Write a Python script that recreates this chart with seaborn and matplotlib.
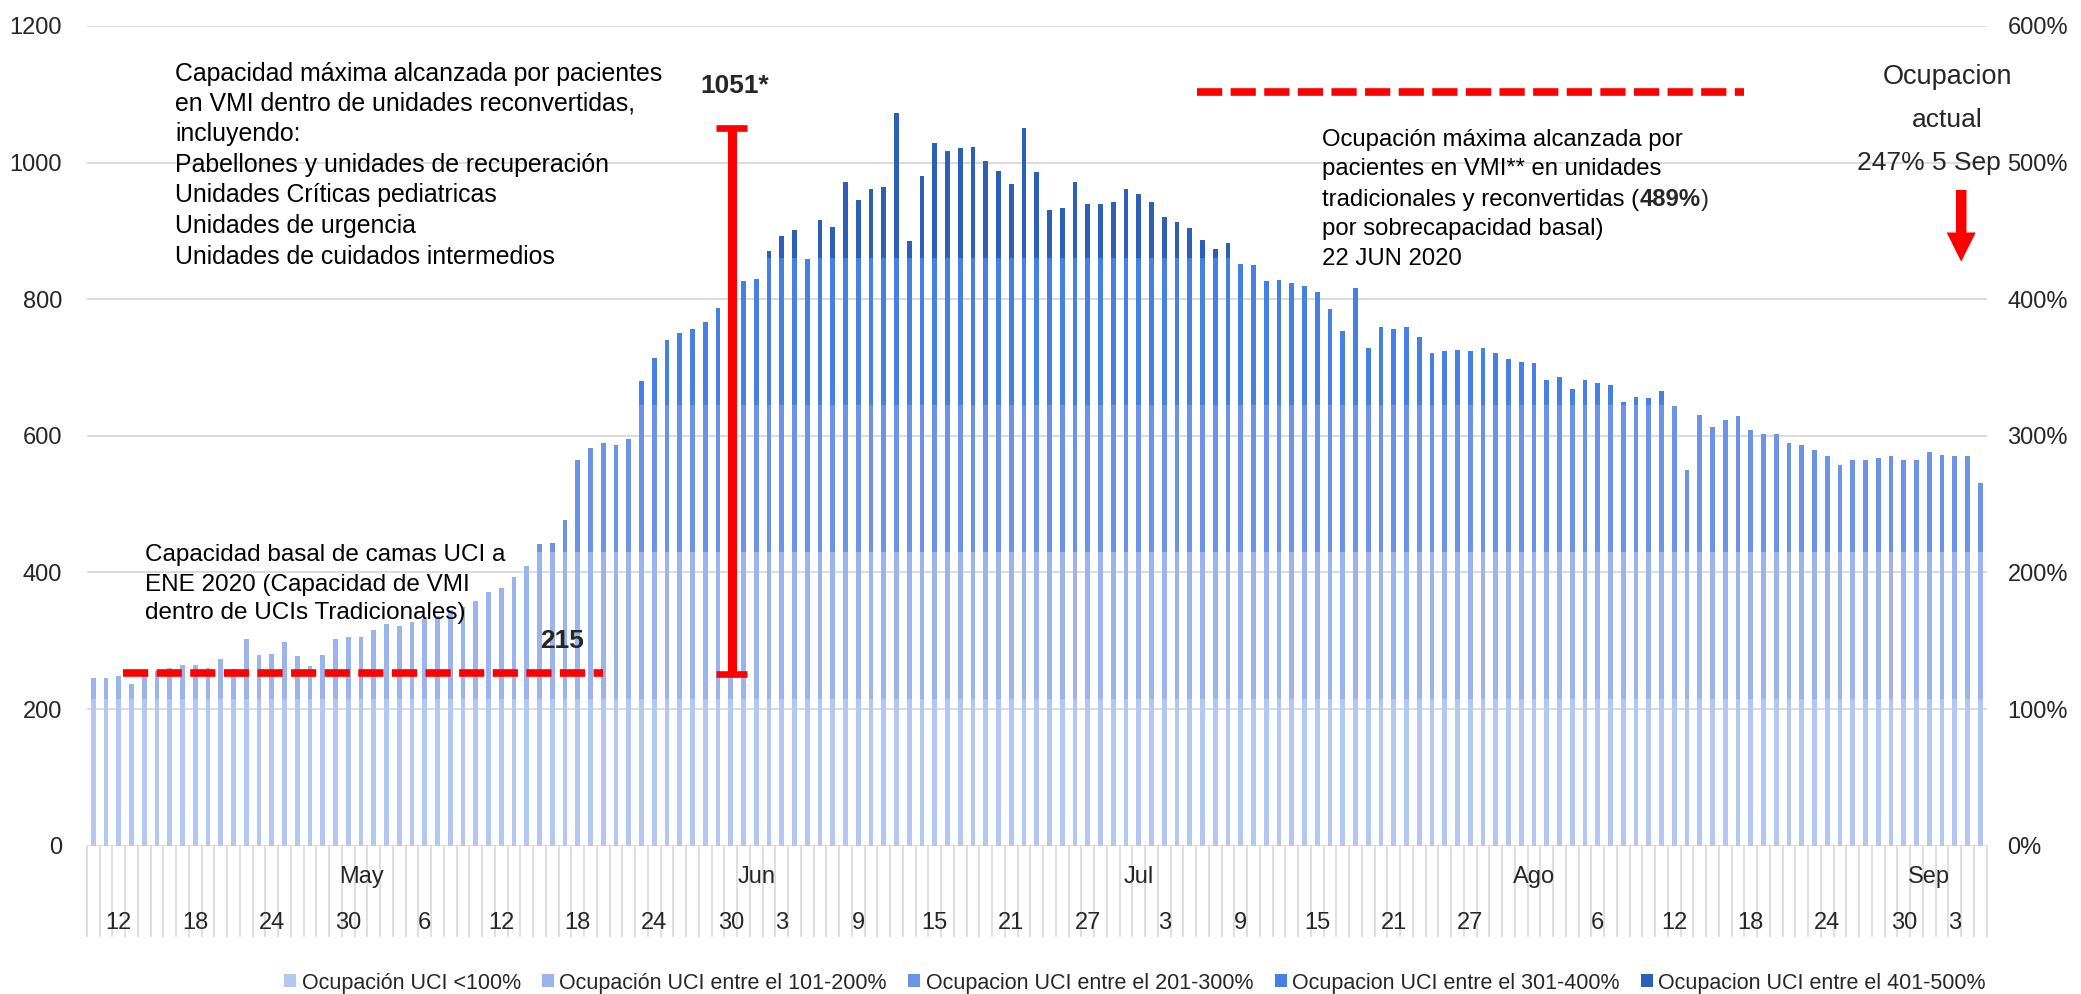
import os
import numpy as np
import pandas as pd
import matplotlib
matplotlib.use("Agg")
import matplotlib.pyplot as plt
from matplotlib import font_manager
from matplotlib.patches import Patch, FancyArrowPatch, ArrowStyle
from matplotlib.transforms import blended_transform_factory
import seaborn as sns

# Daily ICU patients on invasive mechanical ventilation (VMI), from 10 Apr 2020
start_date = "2020-04-10"
patients = [245, 245, 249, 237, 250, 256, 260, 265, 265, 260,
            273, 258, 303, 279, 281, 298, 278, 263, 279, 303,
            306, 306, 316, 324, 321, 328, 332, 336, 345, 350,
            358, 372, 377, 393, 410, 441, 443, 477, 565, 582,
            589, 586, 596, 681, 714, 741, 750, 757, 767, 787,
            805, 826, 830, 871, 893, 901, 859, 916, 906, 971,
            946, 961, 965, 1073, 885, 981, 1029, 1017, 1022, 1023,
            1003, 987, 968, 1051, 986, 930, 934, 972, 940, 940,
            942, 962, 954, 942, 920, 913, 904, 887, 873, 883,
            852, 850, 826, 828, 824, 820, 811, 785, 753, 817,
            728, 759, 757, 759, 745, 722, 724, 726, 724, 728,
            722, 712, 708, 706, 682, 686, 669, 682, 678, 675,
            649, 657, 655, 665, 643, 550, 631, 613, 623, 629,
            608, 602, 602, 589, 586, 580, 570, 558, 564, 564,
            568, 570, 564, 564, 576, 572, 570, 570, 531]

# occupancy bands: each 100% step equals the 215 baseline beds
band_edges = [215, 430, 645, 860, 1075]
band_labels = ["Ocupación UCI <100%",
               "Ocupación UCI entre el 101-200%",
               "Ocupacion UCI entre el 201-300%",
               "Ocupacion UCI entre el 301-400%",
               "Ocupacion UCI entre el 401-500%"]
band_colors = ["#B4C7F0", "#9CB4EE", "#6D93E8", "#4680E2", "#2D5EB8"]

tick_dates = ["2020-04-12", "2020-04-18", "2020-04-24", "2020-04-30",
              "2020-05-06", "2020-05-12", "2020-05-18", "2020-05-24", "2020-05-30",
              "2020-06-03", "2020-06-09", "2020-06-15", "2020-06-21", "2020-06-27",
              "2020-07-03", "2020-07-09", "2020-07-15", "2020-07-21", "2020-07-27",
              "2020-08-06", "2020-08-12", "2020-08-18", "2020-08-24", "2020-08-30",
              "2020-09-03"]
month_names = ["May", "Jun", "Jul", "Ago", "Sep"]
month_starts = ["2020-05-01", "2020-06-01", "2020-07-01", "2020-08-01", "2020-09-01"]
left_ticks = [0, 200, 400, 600, 800, 1000, 1200]
right_ticks = [0, 100, 200, 300, 400, 500, 600]

basal_capacity = 215
max_reconverted = 1051

sns.set_theme(style="white")

# register a narrow Arial-like face if the system has one
for path in font_manager.findSystemFonts():
    if "LiberationSansNarrow" in os.path.basename(path):
        try:
            font_manager.fontManager.addfont(path)
        except Exception:
            pass
installed = {f.name for f in font_manager.fontManager.ttflist}
BASE = "Liberation Sans" if "Liberation Sans" in installed else "DejaVu Sans"
HAS_NARROW = "Liberation Sans Narrow" in installed
NARROW = "Liberation Sans Narrow" if HAS_NARROW else BASE
AXIS_SIZE = 18.5 if HAS_NARROW else 17
LEGEND_SIZE = 18.0 if HAS_NARROW else 15.5
plt.rcParams["font.family"] = [BASE, "DejaVu Sans"]

dates = pd.date_range(start_date, periods=len(patients), freq="D")
pos = {d: i for i, d in enumerate(dates)}
df = pd.DataFrame({"dia": np.arange(len(dates)), "pacientes": patients})

W, H = 2081, 994
fig = plt.figure(figsize=(W / 100, H / 100), dpi=100)
px_left, px_right = 86.9, 1986.7
px_bottom, px_top = 845.7, 26.0
ax = fig.add_axes([px_left / W, (H - px_bottom) / H,
                   (px_right - px_left) / W, (px_bottom - px_top) / H])

# stacked bands drawn as overlapping bars, tallest band first
for edge, color in zip(band_edges[::-1], band_colors[::-1]):
    df["h"] = np.minimum(df["pacientes"], edge)
    sns.barplot(data=df, x="dia", y="h", color=color, saturation=1, width=0.38,
                linewidth=0, edgecolor="none", errorbar=None, native_scale=True, ax=ax)

ax.set_xlabel("")
ax.set_ylabel("")
ax.set_xlim(-0.5, len(dates) - 0.5)
ax.set_ylim(0, 1200)
ax.set_yticks(left_ticks)
ax.set_yticklabels([str(v) for v in left_ticks])
ax.tick_params(axis="y", length=0, pad=18, labelsize=17, labelcolor="#262626")
ax.set_xticks([])
ax.yaxis.grid(True, color="#D9D9D9", linewidth=1.3)
ax.xaxis.grid(False)
ax.set_axisbelow(True)
for s in ax.spines.values():
    s.set_visible(False)

ax2 = ax.twinx()
ax2.set_ylim(0, 600)
ax2.set_yticks(right_ticks)
ax2.set_yticklabels([f"{v}%" for v in right_ticks])
ax2.tick_params(axis="y", length=0, pad=15, labelsize=17, labelcolor="#262626")
ax2.grid(False)
for s in ax2.spines.values():
    s.set_visible(False)

# category axis: separators, day labels, month labels
bx = blended_transform_factory(ax.transData, ax.transAxes)


def yfrac(px):
    return -(px - px_bottom) / (px_bottom - px_top)


ax.vlines(np.arange(len(dates) + 1) - 0.5, yfrac(937), 0, transform=bx,
          colors="#D9D9D9", linewidth=1.2, clip_on=False)
for d in tick_dates:
    ts = pd.Timestamp(d)
    ax.text(pos[ts], yfrac(923), str(ts.day), transform=bx, ha="center", va="center",
            fontsize=AXIS_SIZE, family=[NARROW, "DejaVu Sans"], color="#262626")
for name, d in zip(month_names, month_starts):
    ax.text(pos[pd.Timestamp(d)], yfrac(877), name, transform=bx, ha="center", va="center",
            fontsize=AXIS_SIZE, family=[NARROW, "DejaVu Sans"], color="#262626")

handles = [Patch(facecolor=c, edgecolor="none", label=l) for c, l in zip(band_colors, band_labels)]
fig.legend(handles=handles, loc="center", bbox_to_anchor=(1135 / W, (H - 983) / H), ncol=5,
           frameon=False, prop={"family": [NARROW, "DejaVu Sans"], "size": LEGEND_SIZE},
           handlelength=0.55, handleheight=0.55, handletextpad=0.25, columnspacing=1.0,
           labelcolor="#262626", borderaxespad=0, borderpad=0)

# red reference marks
RED = "#FF0000"
ax.plot([2.3, 40.0], [253, 253], color=RED, lw=5.5, dashes=(3.3, 1.1),
        dash_capstyle="butt", clip_on=False)
ax.plot([86.6, 129.5], [1103, 1103], color=RED, lw=5.5, dashes=(3.3, 1.1),
        dash_capstyle="butt", clip_on=False)

beam_x = 50.07
ax.plot([beam_x, beam_x], [251, max_reconverted], color=RED, lw=6.5, solid_capstyle="butt")
for yv in (251, max_reconverted):
    ax.plot([beam_x - 1.24, beam_x + 1.24], [yv, yv], color=RED, lw=4.8, solid_capstyle="butt")

arrow = FancyArrowPatch((146.5, 960), (146.5, 855),
                        arrowstyle=ArrowStyle.Simple(head_length=21, head_width=21, tail_width=7.6),
                        mutation_scale=1, color=RED, lw=0, shrinkA=0, shrinkB=0,
                        transform=ax.transData, clip_on=False)
ax.add_patch(arrow)

# annotations
upper_lines = ["Capacidad máxima alcanzada por pacientes",
               "en VMI dentro de unidades reconvertidas,",
               "incluyendo:",
               "Pabellones y unidades de recuperación",
               "Unidades Críticas pediatricas",
               "Unidades de urgencia",
               "Unidades de cuidados intermedios"]
upper_y = [1130, 1086, 1042, 996, 952, 907, 862]
for s, yv in zip(upper_lines, upper_y):
    ax.text(6.4, yv, s, fontsize=17.9, color="black", va="center", ha="left")

basal_lines = ["Capacidad basal de camas UCI a",
               "ENE 2020 (Capacidad de VMI",
               "dentro de UCIs Tradicionales)"]
for s, yv in zip(basal_lines, [425, 382, 340]):
    ax.text(4.05, yv, s, fontsize=17.5, color="black", va="center", ha="left")

ax.text(36.8, 300, str(basal_capacity), fontsize=19, fontweight="bold", ha="center", va="center")
ax.text(50.3, 1112, f"{max_reconverted}*", fontsize=19, fontweight="bold", ha="center", va="center")

RT = dict(fontsize=17.2, color="black", va="center", ha="left")
rx = 96.4
ax.text(rx, 1033, "Ocupación máxima alcanzada por", **RT)
ax.text(rx, 990, "pacientes en VMI** en unidades", **RT)
t_a = ax.text(rx, 946, "tradicionales y reconvertidas (", **RT)
t_b = ax.annotate("489%", xy=(1, 946), xycoords=(t_a, "data"), fontsize=17.2,
                  fontweight="bold", va="center", ha="left")
ax.annotate(")", xy=(1, 946), xycoords=(t_b, "data"), fontsize=17.2, va="center", ha="left")
ax.text(rx, 903, "por sobrecapacidad basal)", **RT)
ax.text(rx, 859, "22 JUN 2020", **RT)

ax.text(145.4, 1126, "Ocupacion", fontsize=19.5, ha="center", va="center")
ax.text(145.4, 1062, "actual", fontsize=19, ha="center", va="center")
ax.text(144.0, 999, "247% 5 Sep", fontsize=19, ha="center", va="center")

fig.savefig("out.png", dpi=100)
